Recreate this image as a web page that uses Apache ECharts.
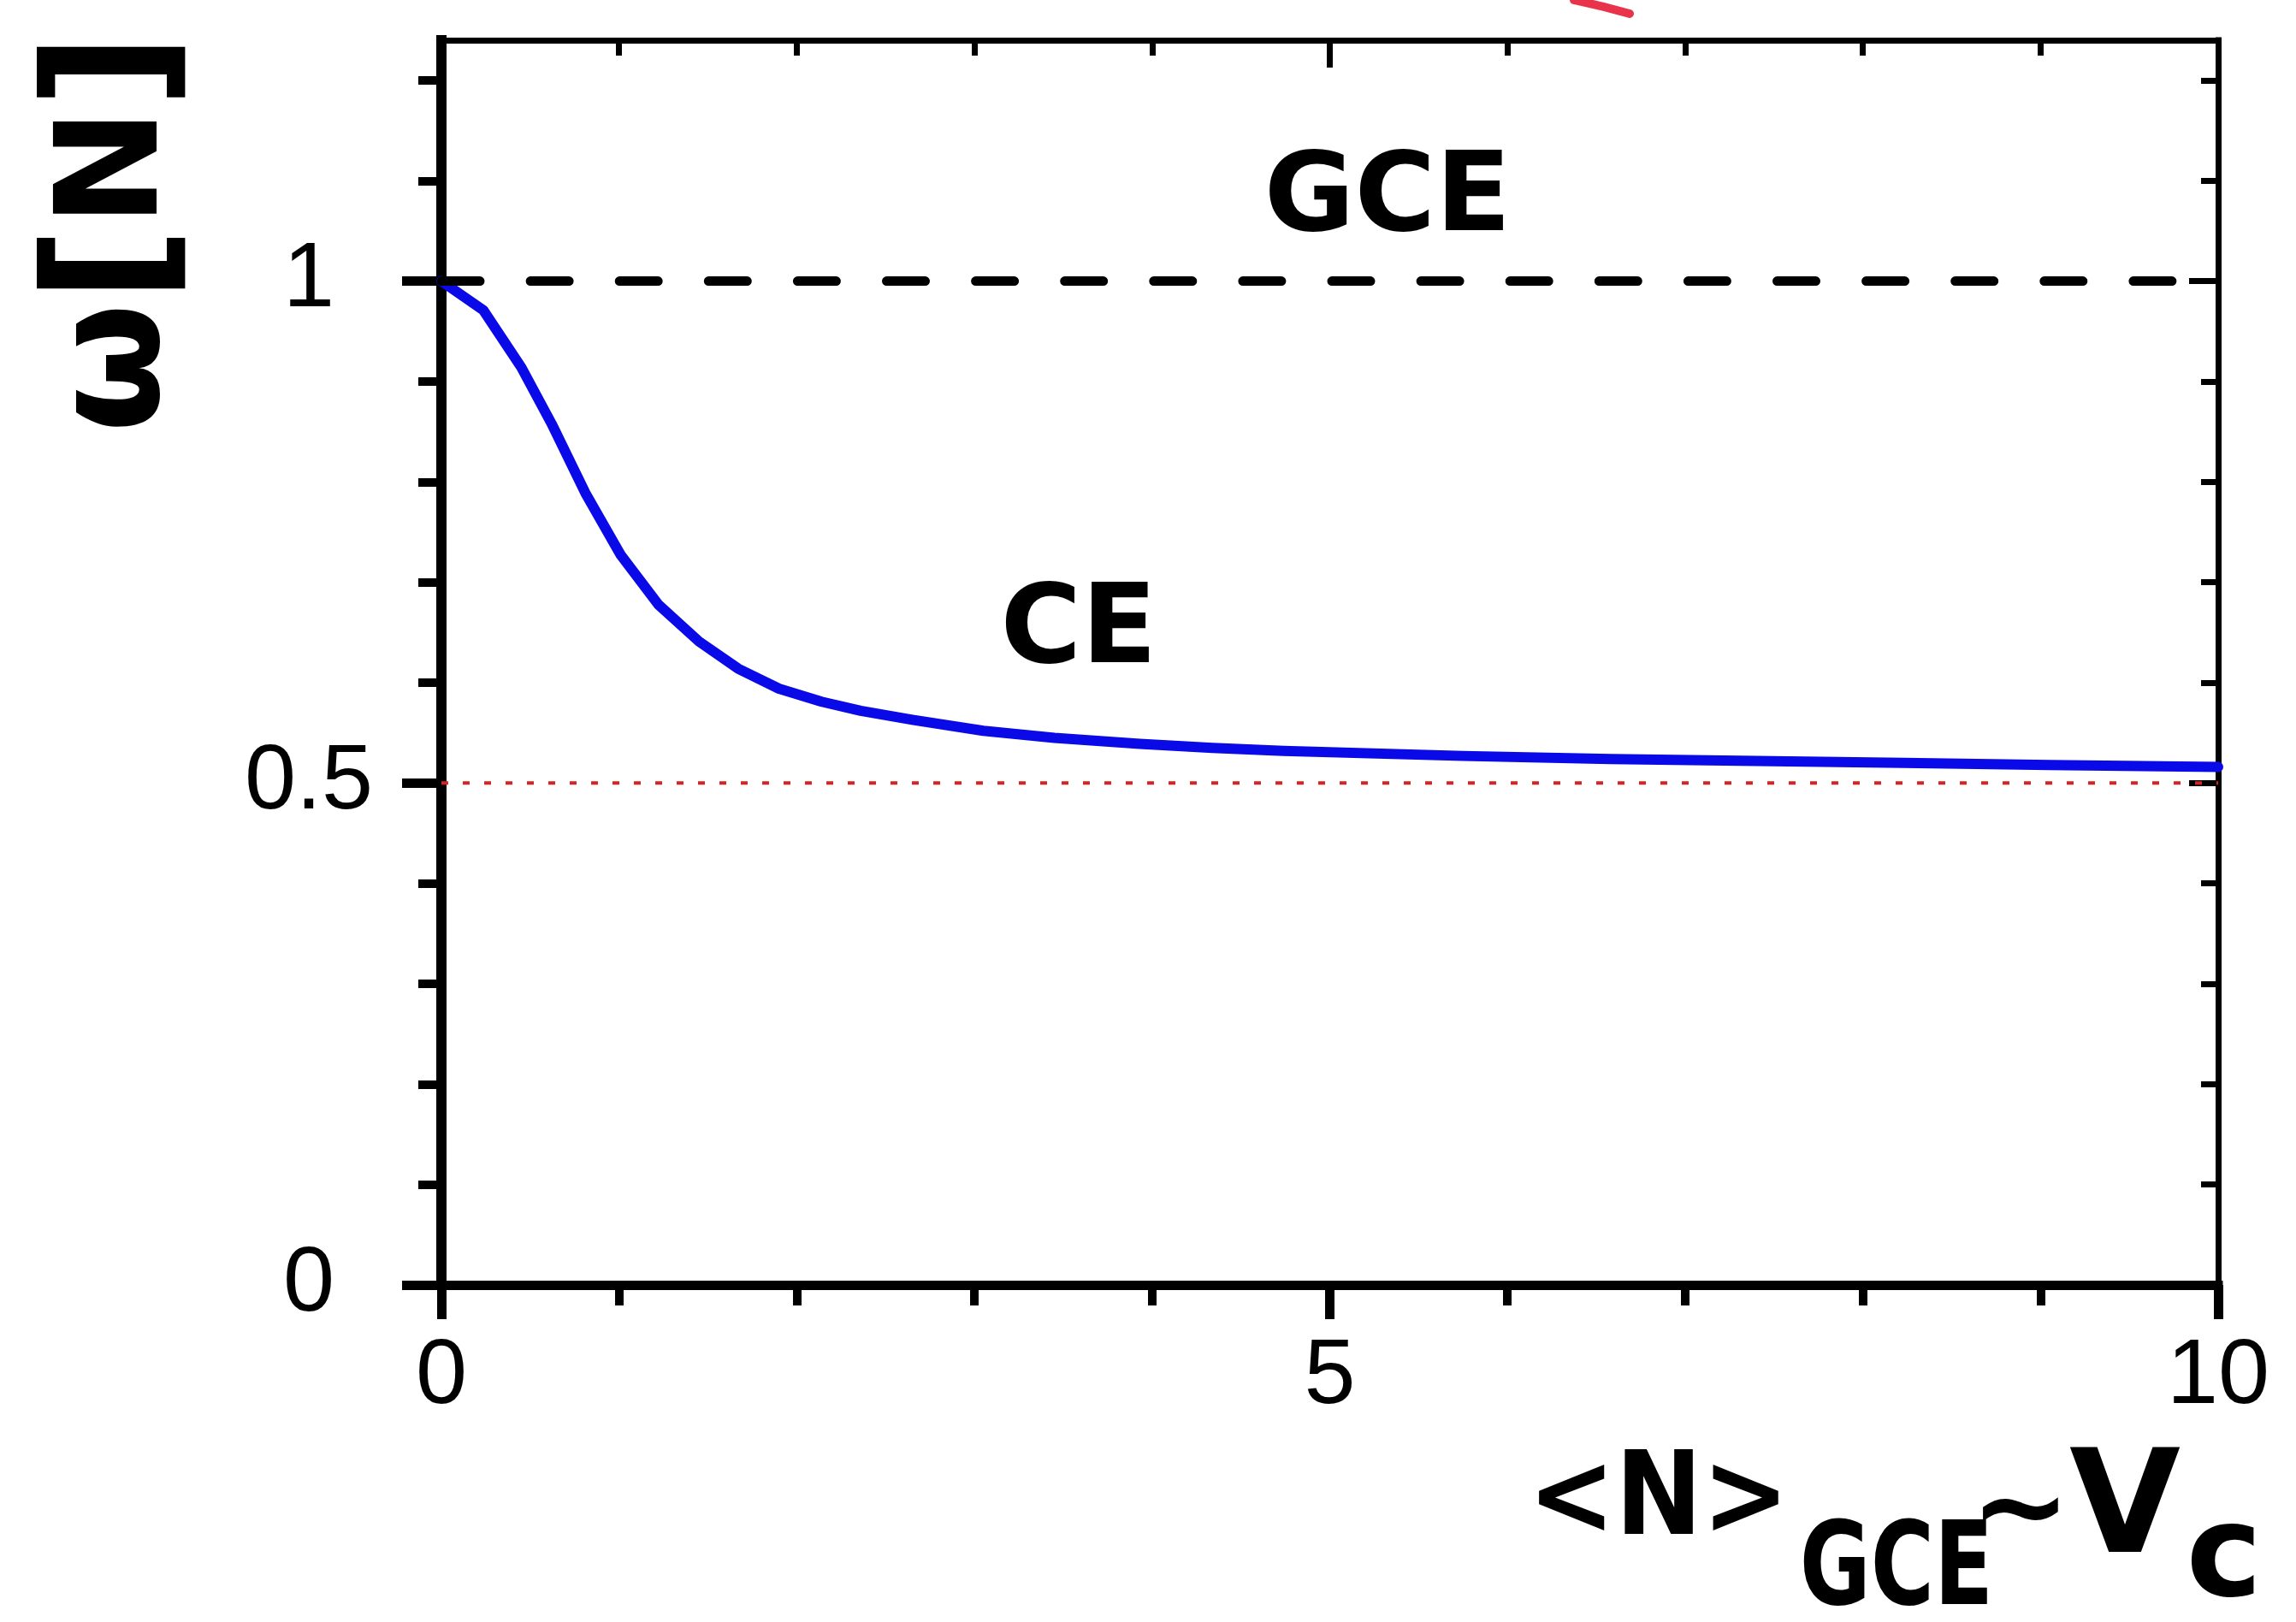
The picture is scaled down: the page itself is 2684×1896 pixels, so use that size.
<!DOCTYPE html>
<html><head><meta charset="utf-8">
<script src="https://cdn.jsdelivr.net/npm/echarts@6/dist/echarts.min.js"></script>
<style>html,body{margin:0;padding:0;background:#fff}#c{width:2684px;height:1896px}</style>
</head><body><div id="c"></div>
<script>
// Canonical-ensemble curve
const ceX = [0, 0.236, 0.45, 0.62, 0.81, 1.01, 1.22, 1.45, 1.67, 1.9, 2.14, 2.36, 2.65, 3.05, 3.45, 3.93, 4.34, 4.74, 5.75, 6.58, 7.4, 8.23, 9.05, 10];
const ceY = [1.0, 0.971, 0.914, 0.858, 0.789, 0.727, 0.678, 0.641, 0.614, 0.594, 0.581, 0.572, 0.563, 0.552, 0.545, 0.539, 0.535, 0.532, 0.527, 0.524, 0.522, 0.520, 0.518, 0.516];
// Grand-canonical reference line and asymptotic limit
const gceX = [0, 10];
const gceY = [1, 1];
const limX = [0, 10];
const limY = [0.5, 0.5];
// Axis ticks
const xMajorTicks = [0, 5, 10];
const yMajorTicks = [0, 0.5, 1];

const zip = (a, b) => a.map((v, i) => [v, b[i]]);

const chart = echarts.init(document.getElementById('c'), null, {renderer: 'canvas'});
const tickFont = {color: '#000', fontFamily: '"Liberation Sans", Arial, sans-serif', fontSize: 108};
const hand = '"DejaVu Sans", sans-serif';
const ctr = {align: 'center', verticalAlign: 'middle', textAlign: 'center', textVerticalAlign: 'middle', fill: '#000'};

chart.setOption({
  animation: false,
  backgroundColor: '#fff',
  grid: {left: 516, right: 91, top: 47, bottom: 394, containLabel: false},
  xAxis: [{
    type: 'value', min: 0, max: 10, interval: 5, position: 'bottom',
    axisLine: {show: true, onZero: false, lineStyle: {color: '#000', width: 11, cap: 'square'}},
    axisTick: {show: true, length: 40, lineStyle: {color: '#000', width: 11}},
    minorTick: {show: true, splitNumber: 5, length: 24, lineStyle: {color: '#000', width: 10}},
    axisLabel: Object.assign({margin: 54}, tickFont),
    splitLine: {show: false}
  }, {
    type: 'value', min: 0, max: 10, interval: 5, position: 'top',
    axisLine: {show: true, onZero: false, lineStyle: {color: '#000', width: 7, cap: 'square'}},
    axisTick: {show: true, inside: true, length: 32, lineStyle: {color: '#000', width: 7}},
    minorTick: {show: true, splitNumber: 5, length: 18, lineStyle: {color: '#000', width: 7}},
    axisLabel: {show: false},
    splitLine: {show: false}
  }],
  yAxis: [{
    type: 'value', min: 0, max: 1.24, interval: 0.5, position: 'left',
    axisLine: {show: true, onZero: false, lineStyle: {color: '#000', width: 12, cap: 'square'}},
    axisTick: {show: true, length: 46, customValues: yMajorTicks, lineStyle: {color: '#000', width: 11}},
    minorTick: {show: true, splitNumber: 5, length: 27, lineStyle: {color: '#000', width: 10}},
    axisLabel: Object.assign({margin: 155, align: 'center', customValues: yMajorTicks,
      formatter: v => (yMajorTicks.indexOf(v) >= 0 ? String(v) : '')}, tickFont),
    splitLine: {show: false}
  }, {
    type: 'value', min: 0, max: 1.24, interval: 0.5, position: 'right',
    axisLine: {show: true, onZero: false, lineStyle: {color: '#000', width: 7, cap: 'square'}},
    axisTick: {show: true, inside: true, length: 34, customValues: yMajorTicks, lineStyle: {color: '#000', width: 7}},
    minorTick: {show: true, splitNumber: 5, length: 20, lineStyle: {color: '#000', width: 7}},
    axisLabel: {show: false},
    splitLine: {show: false}
  }],
  series: [{
    name: 'limit', type: 'line', data: zip(limX, limY), showSymbol: false, symbol: 'none',
    lineStyle: {color: '#d42424', width: 4, type: [8, 17]}, z: 2
  }, {
    name: 'CE', type: 'line', data: zip(ceX, ceY), showSymbol: false, symbol: 'none',
    smooth: false,
    lineStyle: {color: '#0a0ae8', width: 12, join: 'round', cap: 'round'}, z: 3
  }, {
    name: 'GCE', type: 'line', data: zip(gceX, gceY), showSymbol: false, symbol: 'none',
    lineStyle: {color: '#000', width: 11, type: [45, 59.1], cap: 'round'}, z: 4
  }],
  graphic: [
    {type: 'text', x: 1622, y: 235, z: 10,
     style: Object.assign({text: 'GCE', font: 'bold 129px ' + hand}, ctr)},
    {type: 'text', x: 1261, y: 740, z: 10,
     style: Object.assign({text: 'CE', font: 'bold 129px ' + hand}, ctr)},
    {type: 'text', x: 140, y: 272, rotation: Math.PI / 2, z: 10,
     style: Object.assign({
       text: '{w|ω}{b|[}{n|N}{b|]}', font: 'bold 170px ' + hand,
       rich: {
         w: {font: 'bold 175px ' + hand, fill: '#000'},
         b: {font: 'bold 195px ' + hand, fill: '#000'},
         n: {font: 'bold 165px ' + hand, fill: '#000'}
       }}, ctr)},
    {type: 'text', x: 1939, y: 1758, scaleX: 0.9, z: 10,
     style: Object.assign({text: '<N>', font: 'bold 135px ' + hand}, ctr)},
    {type: 'text', x: 2217, y: 1840, scaleX: 0.75, z: 10,
     style: Object.assign({text: 'GCE', font: 'bold 135px ' + hand}, ctr)},
    {type: 'text', x: 2362, y: 1772, z: 10,
     style: Object.assign({text: '~', font: 'bold 140px ' + hand}, ctr)},
    {type: 'text', x: 2484, y: 1770, z: 10,
     style: Object.assign({text: 'V', font: 'bold 168px ' + hand}, ctr)},
    {type: 'text', x: 2600, y: 1826, z: 10,
     style: Object.assign({text: 'c', font: 'bold 150px ' + hand}, ctr)},
    {type: 'polyline', z: 10,
     shape: {points: [[1840, 0], [1875, 8], [1905, 16]]},
     style: {stroke: '#e8334a', lineWidth: 10, fill: null, lineCap: 'round'}}
  ]
});
</script>
</body></html>
